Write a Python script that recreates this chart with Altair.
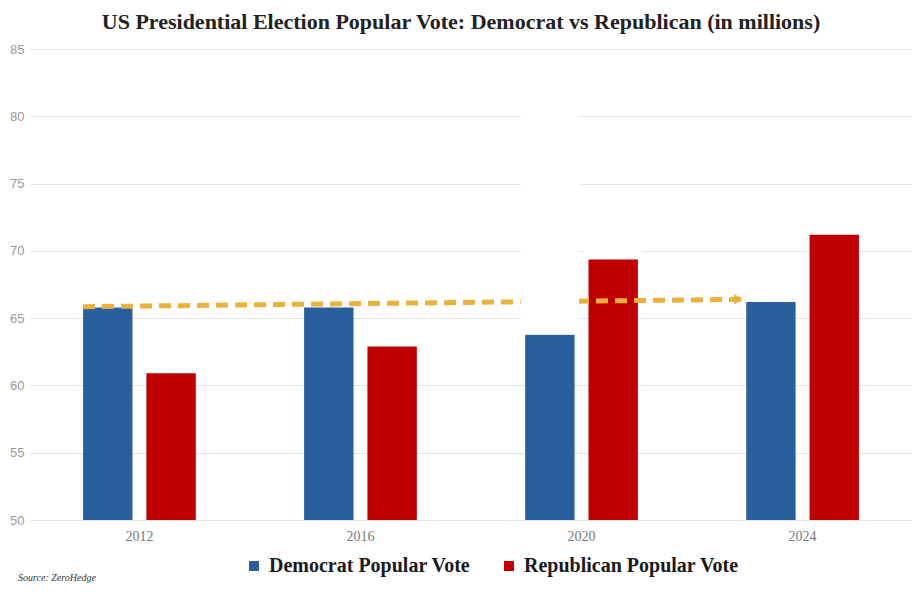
import altair as alt
import pandas as pd

# data (millions of votes)
years = [2012, 2016, 2020, 2024]
dem_votes = [65.8, 65.8, 63.8, 66.2]
rep_votes = [60.9, 62.9, 69.4, 71.2]
parties = ["Democrat Popular Vote", "Republican Popular Vote"]
party_colors = ["#2a5f9f", "#c00000"]

# dashed trend arrow
arrow_years = [2012, 2024]
arrow_values = [65.85, 66.4]

# white patches over the 2020 group
mask_years = [2020, 2020]
mask_party = ["Democrat Popular Vote", "Republican Popular Vote"]
mask_low = [64.1, 69.7]
mask_high = [84.6, 74.5]

y_ticks = [50, 55, 60, 65, 70, 75, 80, 85]
title_text = "US Presidential Election Popular Vote: Democrat vs Republican (in millions)"
source_text = "Source: ZeroHedge"

bars_df = pd.DataFrame({
    "year": years * 2,
    "party": [parties[0]] * 4 + [parties[1]] * 4,
    "votes": dem_votes + rep_votes,
})
arrow_df = pd.DataFrame({"year": arrow_years, "votes": arrow_values})
mask_df = pd.DataFrame({"year": mask_years, "party": mask_party,
                        "low": mask_low, "high": mask_high})

x_scale = alt.Scale(domain=years, paddingInner=0.49, paddingOuter=0.24)
off_scale = alt.Scale(domain=parties, paddingInner=0.22, paddingOuter=0)
y_scale = alt.Scale(domain=[50, 85], nice=False, zero=False)

x_axis = alt.Axis(title=None, labelAngle=0, ticks=False, domain=False, grid=False,
                  labelFont="Liberation Serif", labelFontSize=14, labelColor="#777",
                  labelPadding=9)
y_axis = alt.Axis(title=None, values=y_ticks, ticks=False, domain=False,
                  gridColor="#e3e3e3", gridWidth=1.2, labelFont="Liberation Sans",
                  labelFontSize=13, labelColor="#9a9a9a", labelPadding=6)

bars = alt.Chart(bars_df).mark_bar().encode(
    x=alt.X("year:O", scale=x_scale, axis=x_axis),
    xOffset=alt.XOffset("party:N", scale=off_scale),
    y=alt.Y("votes:Q", scale=y_scale, axis=y_axis),
    y2=alt.datum(50),
    color=alt.Color("party:N", scale=alt.Scale(domain=parties, range=party_colors),
                    legend=alt.Legend(title=None, orient="none", legendX=214, legendY=507,
                                      direction="horizontal", symbolType="square",
                                      symbolSize=100, symbolStrokeWidth=0,
                                      labelFont="Liberation Serif", labelFontSize=20,
                                      labelFontWeight="bold",
                                      labelColor="#1a1a1a", labelLimit=400,
                                      columnPadding=28, labelOffset=5)),
)

arrow_line = alt.Chart(arrow_df).mark_line(
    color="#ebb23b", strokeWidth=5, strokeDash=[12, 7]
).encode(
    x=alt.X("year:O", scale=x_scale, bandPosition=0),
    y=alt.Y("votes:Q", scale=y_scale),
)

arrow_head = alt.Chart(arrow_df.tail(1)).mark_point(
    shape="M-3,-1.3L-1,0L-3,1.3Z", filled=True, color="#ebb23b", opacity=1, size=64
).encode(
    x=alt.X("year:O", scale=x_scale, bandPosition=0),
    y=alt.Y("votes:Q", scale=y_scale),
)

masks = alt.Chart(mask_df).mark_bar(color="white", stroke="white", strokeWidth=9).encode(
    x=alt.X("year:O", scale=x_scale),
    xOffset=alt.XOffset("party:N", scale=off_scale),
    y=alt.Y("low:Q", scale=y_scale),
    y2="high:Q",
)

source = alt.Chart(pd.DataFrame({"t": [source_text]})).mark_text(
    align="left", baseline="middle", font="Liberation Serif", fontStyle="italic",
    fontSize=10, color="#333"
).encode(text="t:N", x=alt.value(-12), y=alt.value(529))

chart = alt.layer(bars, arrow_line, arrow_head, masks, source).properties(
    width=882,
    height=471,
    title=alt.Title(title_text, font="Liberation Serif", fontSize=22, fontWeight="bold",
                    color="#222", anchor="middle", dx=-10, offset=9),
    autosize=alt.AutoSizeParams(type="none"),
    padding={"left": 22, "top": 41, "right": 0, "bottom": 67},
    background="white",
).configure_view(stroke=None)

chart.save("out.html", embed_options={"renderer": "svg", "actions": False})
